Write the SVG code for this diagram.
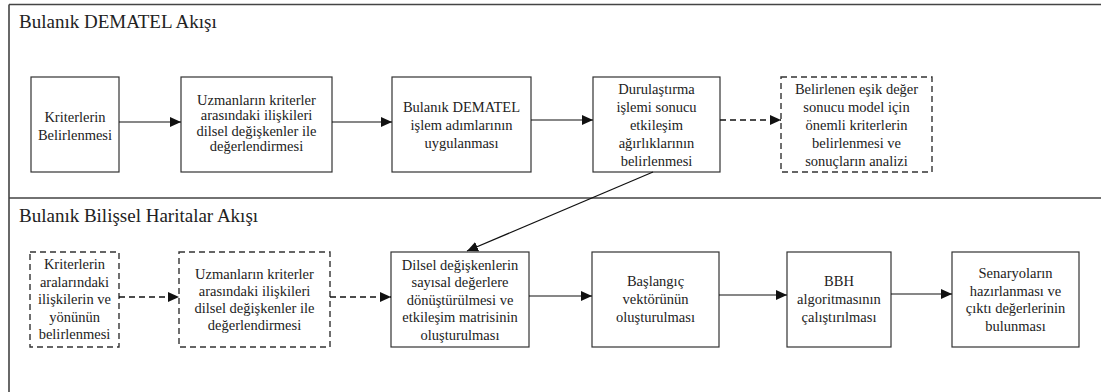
<svg xmlns="http://www.w3.org/2000/svg" width="1101" height="392" viewBox="0 0 1101 392">
<style>
.frame{fill:none;stroke:#444;stroke-width:1.6}
.box{fill:#fff;stroke:#333;stroke-width:1.2}
.dbox{fill:#fff;stroke:#333;stroke-width:1.4;stroke-dasharray:6 4}
.c{fill:none;stroke:#111;stroke-width:1.2;marker-end:url(#ah)}
.dc{fill:none;stroke:#111;stroke-width:1.4;stroke-dasharray:6 4;marker-end:url(#ah)}
</style>
<defs>
<marker id="ah" markerUnits="userSpaceOnUse" markerWidth="12" markerHeight="10" refX="11" refY="5" orient="auto">
<path d="M0,0 L11,5 L0,10 Z" fill="#111"/>
</marker>
</defs>
<rect width="1101" height="392" fill="#fff"/>
<g id="frame">
<path class="frame" d="M9,4.5 H1101 M9,4.5 V392 M9,198 H1101"/>
<text font-family="Liberation Serif" font-size="19" fill="#222" x="19" y="28">Bulanık DEMATEL Akışı</text>
<text font-family="Liberation Serif" font-size="19" fill="#222" x="19" y="222">Bulanık Bilişsel Haritalar Akışı</text>
</g>
<g id="n1"><rect class="box" x="31" y="77" width="88" height="95"/>
<text font-family="Liberation Serif" font-size="14.5" fill="#222" text-anchor="middle"><tspan x="75" y="121.5">Kriterlerin</tspan><tspan x="75" y="139.5">Belirlenmesi</tspan></text></g>
<g id="n2"><rect class="box" x="181" y="77" width="151" height="95"/>
<text font-family="Liberation Serif" font-size="14.5" fill="#222" text-anchor="middle"><tspan x="256.5" y="104.5">Uzmanların kriterler</tspan><tspan x="256.5" y="120">arasındaki ilişkileri</tspan><tspan x="256.5" y="135.5">dilsel değişkenler ile</tspan><tspan x="256.5" y="151">değerlendirmesi</tspan></text></g>
<g id="n3"><rect class="box" x="392" y="77" width="139" height="95"/>
<text font-family="Liberation Serif" font-size="14.5" fill="#222" text-anchor="middle"><tspan x="461.5" y="112">Bulanık DEMATEL</tspan><tspan x="461.5" y="130">işlem adımlarının</tspan><tspan x="461.5" y="148">uygulanması</tspan></text></g>
<g id="n4"><rect class="box" x="593" y="77" width="127" height="95"/>
<text font-family="Liberation Serif" font-size="14.5" fill="#222" text-anchor="middle"><tspan x="656.5" y="94">Durulaştırma</tspan><tspan x="656.5" y="112">işlemi sonucu</tspan><tspan x="656.5" y="130">etkileşim</tspan><tspan x="656.5" y="148">ağırlıklarının</tspan><tspan x="656.5" y="166">belirlenmesi</tspan></text></g>
<g id="n5"><rect class="dbox" x="781" y="77" width="151" height="95"/>
<text font-family="Liberation Serif" font-size="14.5" fill="#222" text-anchor="middle"><tspan x="856.5" y="94">Belirlenen eşik değer</tspan><tspan x="856.5" y="112">sonucu model için</tspan><tspan x="856.5" y="130">önemli kriterlerin</tspan><tspan x="856.5" y="148">belirlenmesi ve</tspan><tspan x="856.5" y="166">sonuçların analizi</tspan></text></g>
<g id="m1"><rect class="dbox" x="30" y="252" width="89" height="95"/>
<text font-family="Liberation Serif" font-size="14.5" fill="#222" text-anchor="middle"><tspan x="74.5" y="269">Kriterlerin</tspan><tspan x="74.5" y="286.5">aralarındaki</tspan><tspan x="74.5" y="304">ilişkilerin ve</tspan><tspan x="74.5" y="321.5">yönünün</tspan><tspan x="74.5" y="339">belirlenmesi</tspan></text></g>
<g id="m2"><rect class="dbox" x="179" y="252" width="151" height="95"/>
<text font-family="Liberation Serif" font-size="14.5" fill="#222" text-anchor="middle"><tspan x="254.5" y="278.5">Uzmanların kriterler</tspan><tspan x="254.5" y="295.5">arasındaki ilişkileri</tspan><tspan x="254.5" y="312.5">dilsel değişkenler ile</tspan><tspan x="254.5" y="330">değerlendirmesi</tspan></text></g>
<g id="m3"><rect class="box" x="391" y="252" width="138" height="95"/>
<text font-family="Liberation Serif" font-size="14.5" fill="#222" text-anchor="middle"><tspan x="460" y="269.5">Dilsel değişkenlerin</tspan><tspan x="460" y="287">sayısal değerlere</tspan><tspan x="460" y="304.5">dönüştürülmesi ve</tspan><tspan x="460" y="322">etkileşim matrisinin</tspan><tspan x="460" y="339.5">oluşturulması</tspan></text></g>
<g id="m4"><rect class="box" x="592" y="252" width="127" height="95"/>
<text font-family="Liberation Serif" font-size="14.5" fill="#222" text-anchor="middle"><tspan x="655.5" y="286">Başlangıç</tspan><tspan x="655.5" y="304">vektörünün</tspan><tspan x="655.5" y="322">oluşturulması</tspan></text></g>
<g id="m5"><rect class="box" x="787" y="252" width="104" height="95"/>
<text font-family="Liberation Serif" font-size="14.5" fill="#222" text-anchor="middle"><tspan x="839" y="286">BBH</tspan><tspan x="839" y="304">algoritmasının</tspan><tspan x="839" y="322">çalıştırılması</tspan></text></g>
<g id="m6"><rect class="box" x="952" y="252" width="127" height="95"/>
<text font-family="Liberation Serif" font-size="14.5" fill="#222" text-anchor="middle"><tspan x="1015.5" y="278">Senaryoların</tspan><tspan x="1015.5" y="295.5">hazırlanması ve</tspan><tspan x="1015.5" y="313">çıktı değerlerinin</tspan><tspan x="1015.5" y="330.5">bulunması</tspan></text></g>
<g id="connectors">
<path class="c" d="M119,122 H181"/>
<path class="c" d="M332,122 H392"/>
<path class="c" d="M531,120 H593"/>
<path class="dc" d="M720,120 H781"/>
<path class="c" d="M653,172 L467,251"/>
<path class="dc" d="M119,297 H179"/>
<path class="dc" d="M330,297 H391"/>
<path class="c" d="M529,296 H592"/>
<path class="c" d="M719,295 H787"/>
<path class="c" d="M891,294 H952"/>
</g>
</svg>
